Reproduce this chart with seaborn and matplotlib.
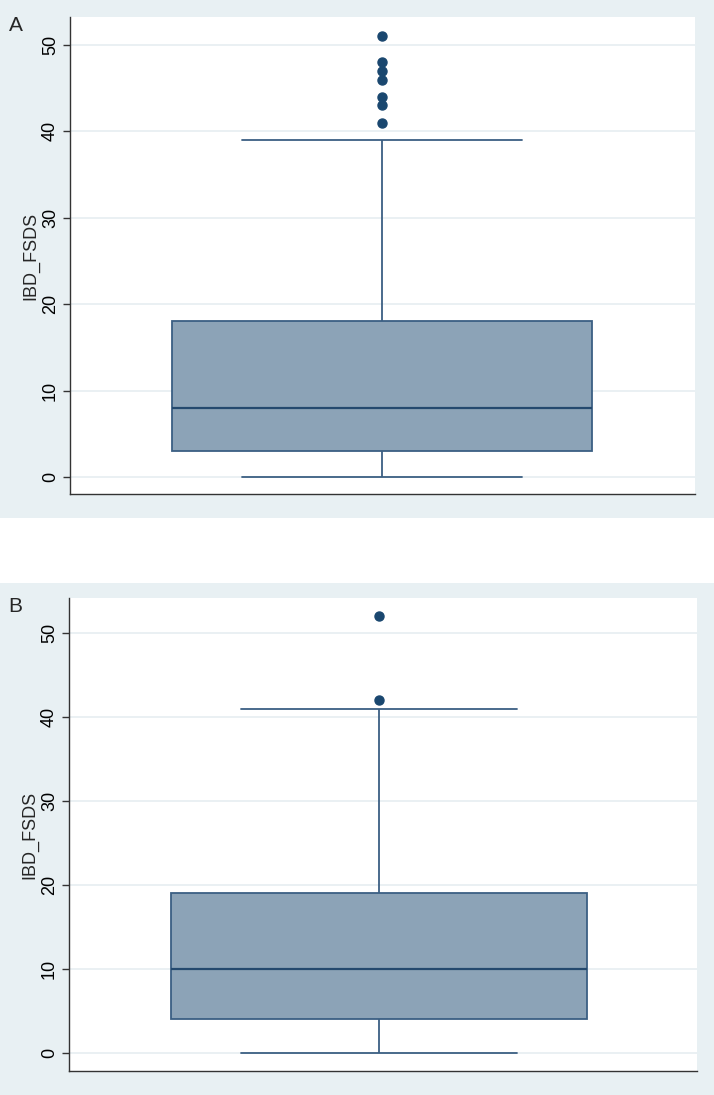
import matplotlib
matplotlib.use("Agg")
import matplotlib.pyplot as plt
from matplotlib.patches import Rectangle
import seaborn as sns

# IBD_FSDS samples, chosen so the box statistics match the picture
# panel A: q1=3, median=8, q3=18, whiskers 0..39, outliers 41..51
ibd_fsds_a = [0, 0, 1, 1, 2, 2, 2, 3, 3,
              4, 5, 5, 6, 6, 7, 7, 8,
              9, 10, 11, 12, 14, 15, 16, 18,
              39, 41, 43, 44, 46, 47, 48, 51]
# panel B: q1=4, median=10, q3=19, whiskers 0..41, outliers 42, 52
ibd_fsds_b = [0, 0, 1, 2, 2, 3, 3, 4, 4,
              5, 6, 7, 7, 8, 9, 9, 10,
              11, 12, 13, 14, 15, 16, 18, 19,
              21, 24, 27, 30, 35, 41, 42, 52]

panel_labels = ["A", "B"]
y_ticks = [0, 10, 20, 30, 40, 50]
y_label = "IBD_FSDS"

sns.set_style("white")
plt.rcParams["font.family"] = ["Liberation Sans", "DejaVu Sans"]

BG = "#E8F0F3"
GRID = "#E6EEF1"
FILL = "#8CA3B7"
EDGE = "#3B5F83"
NAVY = "#1A476F"

fig = plt.figure(figsize=(7.14, 10.95), dpi=100)
fig.patch.set_facecolor("white")

# panel backgrounds (figure fraction)
fig.add_artist(Rectangle((0, 0.527), 1, 0.473, transform=fig.transFigure,
                         facecolor=BG, edgecolor="none", zorder=-1))
fig.add_artist(Rectangle((0, 0), 1, 0.4676, transform=fig.transFigure,
                         facecolor=BG, edgecolor="none", zorder=-1))

panels = [
    dict(data=ibd_fsds_a, rect=[0.098, 0.5489, 0.875, 0.4356],
         ylim=(-1.97, 53.24), xlim=(-0.5, 0.5), width=0.672, cap=0.448,
         label_y=0.985),
    dict(data=ibd_fsds_b, rect=[0.0966, 0.0219, 0.8794, 0.432],
         ylim=(-2.14, 54.17), xlim=(-0.494, 0.506), width=0.662, cap=0.44,
         label_y=0.455),
]

for name, p in zip(panel_labels, panels):
    ax = fig.add_axes(p["rect"])
    ax.set_facecolor("white")
    sns.boxplot(
        y=p["data"], ax=ax, width=p["width"], color=FILL, linecolor=EDGE,
        saturation=1, linewidth=1.3, whis=1.5, capwidths=p["cap"],
        medianprops=dict(color="#24496E", linewidth=1.6),
        flierprops=dict(marker="o", markerfacecolor=NAVY,
                        markeredgecolor=NAVY, markersize=6.5),
    )
    ax.set_xlim(*p["xlim"])
    ax.set_ylim(*p["ylim"])
    ax.set_yticks(y_ticks)
    ax.set_yticklabels([str(t) for t in y_ticks], rotation=90, va="center",
                       fontsize=13)
    ax.set_xticks([])
    ax.set_xlabel("")
    ax.set_ylabel(y_label, fontsize=13, labelpad=2)
    ax.yaxis.grid(True, color=GRID, linewidth=1.2)
    ax.set_axisbelow(True)
    for side in ["top", "right"]:
        ax.spines[side].set_visible(False)
    for side in ["left", "bottom"]:
        ax.spines[side].set_color("#333333")
        ax.spines[side].set_linewidth(1.0)
    ax.tick_params(axis="y", length=5, width=1, color="#333333", pad=3,
                   left=True, labelcolor="black")
    fig.text(0.012, p["label_y"], name, fontsize=15, ha="left", va="top")

fig.savefig("out.png", dpi=100, facecolor=fig.get_facecolor())
